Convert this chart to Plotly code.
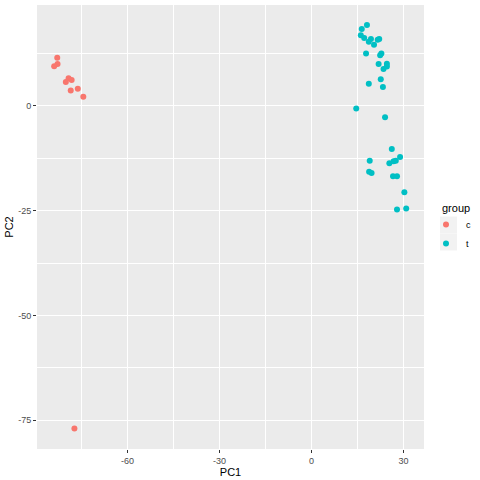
import plotly.graph_objects as go

# PCA scores, split by group
c_pc1 = [-82.9, -82.8, -83.9, -79.2, -78.2, -80.1, -76.2, -78.5, -74.4, -77.3]
c_pc2 = [11.5, 10.0, 9.5, 6.6, 6.2, 5.7, 4.1, 3.7, 2.2, -77.0]

t_pc1 = [18.1, 16.4, 16.1, 17.2, 19.4, 18.7, 20.4, 21.6, 22.1, 17.8,
         22.4, 22.8, 21.9, 24.6, 24.6, 23.5, 22.6, 18.7, 23.3, 14.6,
         24.0, 26.2, 19.0, 25.4, 26.8, 27.5, 28.9, 18.8, 19.6, 26.6,
         27.9, 30.3, 27.9, 30.9]
t_pc2 = [19.3, 18.4, 16.9, 16.2, 16.0, 15.3, 14.6, 15.8, 16.0, 12.5,
         12.1, 12.5, 10.0, 10.1, 9.4, 8.8, 6.4, 5.3, 4.5, -0.6,
         -2.7, -10.3, -13.1, -13.7, -13.2, -13.1, -12.2, -15.7, -16.0, -16.8,
         -16.8, -20.6, -24.7, -24.5]

x_ticks = [-60, -30, 0, 30]
x_labels = ["-60", "-30", "0", "30"]
y_ticks = [-75, -50, -25, 0]
y_labels = ["-75", "-50", "-25", "0"]

fig = go.Figure()
fig.add_trace(go.Scatter(x=c_pc1, y=c_pc2, mode="markers", name="c",
                         marker=dict(color="#F8766D", size=6)))
fig.add_trace(go.Scatter(x=t_pc1, y=t_pc2, mode="markers", name="t",
                         marker=dict(color="#00BFC4", size=6)))

# ggplot2-ish grey theme
axis_common = dict(
    showgrid=True, gridcolor="white", gridwidth=1.1,
    zeroline=False, showline=False, automargin=False,
    ticks="outside", ticklen=3, tickcolor="#333333", tickwidth=1,
    tickfont=dict(size=9, color="#4D4D4D"),
    minor=dict(showgrid=True, gridcolor="white", gridwidth=0.5),
)
fig.update_xaxes(axis_common, range=[-89.5, 36.7], tickvals=x_ticks, ticktext=x_labels,
                 title=dict(text="PC1", font=dict(size=11, color="black"), standoff=0))
fig.update_xaxes(minor_dtick=15, minor_tick0=0)
fig.update_yaxes(axis_common, range=[-81.9, 24.1], tickvals=y_ticks, ticktext=y_labels,
                 title=dict(text="PC2", font=dict(size=11, color="black"), standoff=2))
fig.update_yaxes(minor_dtick=12.5, minor_tick0=0)

# grey key boxes like ggplot's legend keys
for ky in (225, 242):
    fig.add_shape(type="rect", xref="paper", yref="paper",
                  x0=(440 - 37) / 387, x1=(457 - 37) / 387,
                  y0=(449 - ky - 8.5) / 444, y1=(449 - ky + 8.5) / 444,
                  fillcolor="#F2F2F2", line_width=0, layer="below")

fig.add_annotation(text="group", xref="paper", yref="paper",
                   x=(440 - 37) / 387, y=(449 - 208) / 444,
                   xanchor="left", yanchor="middle", showarrow=False,
                   font=dict(size=11, color="black"))

fig.update_layout(
    width=480, height=480,
    margin=dict(l=37, r=56, t=5, b=31, autoexpand=False),
    plot_bgcolor="#EBEBEB", paper_bgcolor="white",
    font=dict(family="Liberation Sans, Arial, sans-serif"),
    legend=dict(font=dict(size=9, color="black"), bgcolor="rgba(0,0,0,0)",
                x=(426 - 37) / 387, xanchor="left", y=(449 - 210) / 444, yanchor="top",
                tracegroupgap=0, itemwidth=30),
)

fig.write_html("out.html", config={"displayModeBar": False},
               post_script="document.body.style.margin='0';")
